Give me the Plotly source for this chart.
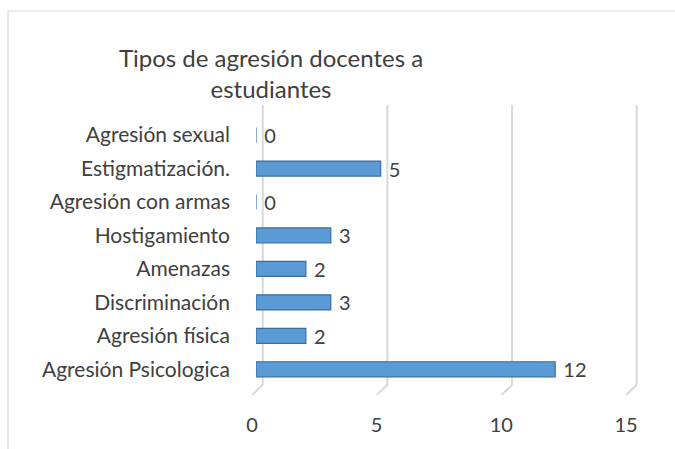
import plotly.graph_objects as go

categories = ["Agresión Psicologica", "Agresión física", "Discriminación", "Amenazas",
              "Hostigamiento", "Agresión con armas", "Estigmatización.", "Agresión sexual"]
values = [12, 2, 3, 2, 3, 0, 5, 0]
x_ticks = [0, 5, 10, 15]
title_text = "Tipos de agresión docentes a<br>estudiantes"

FONT = "Lato"
TXT = "#404040"
GRID = "#D9D9D9"
W, H = 675, 449
L, R, T, B = 256, 45, 105, 64
pw, ph = W - L - R, H - T - B
X_MAX = 15

fig = go.Figure()
fig.add_trace(go.Bar(
    y=categories, x=values, orientation="h",
    marker=dict(color="#5B9BD5", line=dict(color="#3A6E9E", width=1.2)),
    text=["\u00a0" + str(v) for v in values], textposition="outside",
    textfont=dict(family=FONT, size=20, color=TXT),
    constraintext="none",
    cliponaxis=False,
    hoverinfo="skip",
))

shapes = []
# back-wall gridlines and floor slant lines (3D look), placed in paper units from the tick values
for v in x_ticks:
    xb = (v + 0.27) / X_MAX
    xf = (v - 0.15) / X_MAX
    shapes.append(dict(type="line", xref="paper", yref="paper",
                       x0=xb, y0=0, x1=xb, y1=1,
                       line=dict(color=GRID, width=2), layer="below"))
    shapes.append(dict(type="line", xref="paper", yref="paper",
                       x0=xb, y0=0, x1=xf, y1=-0.035,
                       line=dict(color=GRID, width=2), layer="below"))
# chart border (left and top)
bx = (8 - L) / pw
by = (H - B - 11) / ph
shapes.append(dict(type="line", xref="paper", yref="paper", x0=bx, y0=by, x1=(W + 5 - L) / pw, y1=by,
                   line=dict(color=GRID, width=1.2)))
shapes.append(dict(type="line", xref="paper", yref="paper", x0=bx, y0=by, x1=bx, y1=-(B + 5) / ph,
                   line=dict(color=GRID, width=1.2)))

fig.update_layout(
    width=W, height=H,
    margin=dict(l=L, r=R, t=T, b=B, autoexpand=False),
    paper_bgcolor="white", plot_bgcolor="white",
    bargap=0.55,
    showlegend=False,
    title=dict(text=title_text, x=271 / W, xref="container", xanchor="center",
               y=1 - 67 / H, yref="container", yanchor="middle",
               font=dict(family=FONT, size=24, color=TXT)),
    font=dict(family=FONT, color=TXT),
    shapes=shapes,
)
fig.update_xaxes(range=[0, X_MAX], tickvals=x_ticks, showgrid=False,
                 zeroline=False, showline=False, ticks="", automargin=False,
                 tickfont=dict(family=FONT, size=20, color=TXT),
                 ticklabelstandoff=26, ticklabelshift=-4)
fig.update_yaxes(range=[-0.47, 7.9], showgrid=False, zeroline=False, showline=False, ticks="",
                 automargin=False,
                 tickfont=dict(family=FONT, size=21, color=TXT), ticklabelstandoff=25)

fig.write_html("out.html", config={"displayModeBar": False},
               post_script="document.body.style.margin='0';")
